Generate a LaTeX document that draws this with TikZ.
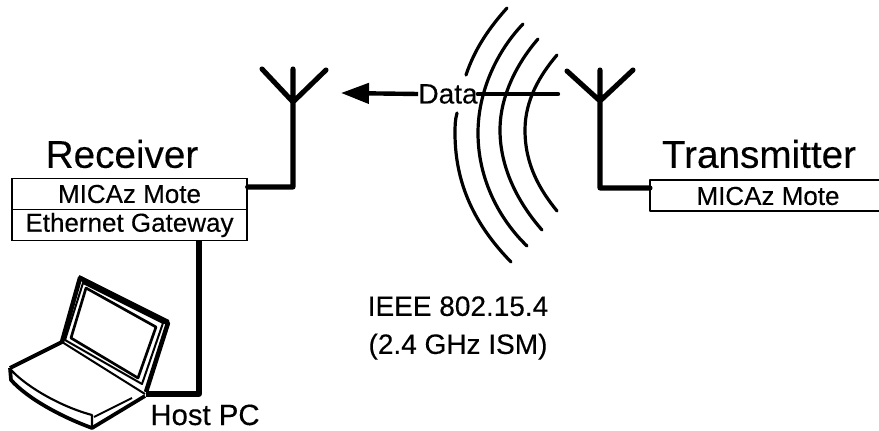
\documentclass[tikz,border=0pt]{standalone}
\usepackage{fontspec}
\setmainfont{Liberation Sans}[FakeBold=0.25]
\usetikzlibrary{arrows.meta}
\tikzset{
  px/.style={x=0.75pt,y=-0.75pt},
  box/.style={draw=black,line width=1pt,minimum width=176.25pt,minimum height=22.8pt,inner sep=0pt,font=\fontsize{19.5pt}{22pt}\selectfont,anchor=center},
  thick line/.style={line width=3.8pt,line join=round,line cap=round},
  wave/.style={line width=2.4pt,line cap=round},
  title/.style={font=\fontsize{29pt}{30pt}\selectfont,inner sep=0pt},
  label/.style={font=\fontsize{21pt}{28.5pt}\selectfont,inner sep=0pt,align=center},
  lap/.style={line width=1.5pt,line join=round}
}
\begin{document}
\begin{tikzpicture}[px]
\useasboundingbox (0,0) rectangle (879,431);
% boxes
\node[box] (mote) at (129.5,194) {MICAz Mote};
\node[box] (gate) at (129.5,225) {Ethernet Gateway};
\node[inner sep=0pt,font=\fontsize{19.5pt}{22pt}\selectfont] (tmote) at (768,196) {MICAz Mote};
\coordinate (tnw) at (650,180);
\coordinate (tsw) at (650,211);
\draw[line width=1pt,line join=round] (879,180) -- (tnw) -- (tsw) -- (879,211);
\node[title] (rx) at (122,154) {Receiver};
\node[title] (tx) at (759,154) {Transmitter};
% left antenna
\coordinate (lfork) at (293,102);
\coordinate (ltop) at (293,69);
\coordinate (la) at (262,69);
\coordinate (lb) at (326,70);
\coordinate (lbend) at (293,187);
\draw[thick line] (la) -- (lfork) -- (lb) (ltop) -- (lfork) -- (lbend) -- (mote.east |- lbend);
% right antenna
\coordinate (rfork) at (600,101);
\coordinate (rtop) at (600,70);
\coordinate (ra) at (567,71);
\coordinate (rb) at (633,70);
\coordinate (rbend) at (600,188);
\draw[thick line] (ra) -- (rfork) -- (rb) (rtop) -- (rfork) -- (rbend) -- (tnw |- rbend);
% data
\node[font=\fontsize{21pt}{24pt}\selectfont,inner sep=0pt] (data) at (448,94) {Data};
\coordinate (tipl) at (341,93);
\coordinate (lineend) at (558,94);
\draw[line width=3.3pt,-{Triangle[length=21pt,width=15pt]}] (data.west) -- (tipl);
\draw[line width=3.3pt,line cap=round] (data.east) -- (lineend);
% waves
\draw[wave] (507,8) .. controls (490,27) and (475,48) .. (466,75);
\draw[wave] (457,113) .. controls (455,120) and (455,127) .. (455,133) .. controls (455,190) and (480,230) .. (511,262);
\draw[wave] (523,24) .. controls (498,50) and (478,90) .. (478,133) .. controls (478,180) and (500,220) .. (527,246);
\draw[wave] (538,39) .. controls (518,62) and (500,95) .. (500,130) .. controls (500,170) and (520,205) .. (542,230);
\draw[wave] (557,55) .. controls (540,75) and (525,100) .. (525,130) .. controls (525,165) and (540,190) .. (557,211);
% laptop
\coordinate (hl) at (62,342);
\coordinate (hr) at (145,394);
\draw[line width=3.4pt,line join=round] (hl) -- (80,278) -- (168,323) -- (146,392);
\fill (79,275) -- (169,320) -- (169,326) -- (83,283) -- cycle;
\draw[lap] (65,340) -- (83,283) -- (163,323) -- (142,384) -- cycle;
\draw[line width=2pt,line join=round] (71,338) -- (86,288) -- (156,327) -- (138,378) -- cycle;
\draw[line width=3pt,line join=round] (hl) -- (10,368);
\draw[lap] (hl) -- (hr);
\draw[line width=2.8pt,line join=round] (10,368) -- (11,380) .. controls (28,399) and (62,417) .. (92,428) -- (145,396);
\draw[line width=1.6pt,line join=round] (11,370) .. controls (28,388) and (62,407) .. (92,415) -- (92,428);
\draw[line width=1.5pt] (94,417) -- (132,398);
\coordinate (pcout) at (146,394);
\coordinate (pcbend) at (199,394);
\draw[thick line,line cap=butt] (pcout) -- (pcbend) -- (gate.south -| pcbend);
\node[font=\fontsize{22pt}{24pt}\selectfont,inner sep=0pt,anchor=base] (host) at (205,425) {Host PC};
\node[label] (ieee) at (458,328) {IEEE 802.15.4\\(2.4 GHz ISM)};
\end{tikzpicture}
\end{document}
